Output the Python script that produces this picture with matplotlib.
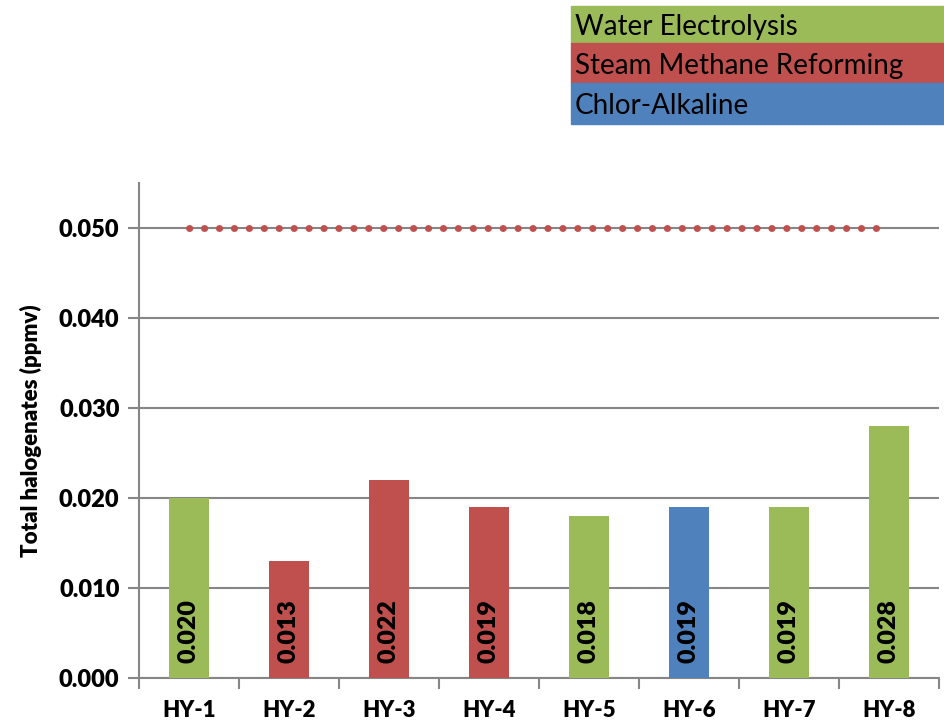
import matplotlib.pyplot as plt
import matplotlib.patches as mpatches

plt.rcParams['font.family'] = ['Lato', 'DejaVu Sans']

# datos
samples = ['HY-1', 'HY-2', 'HY-3', 'HY-4', 'HY-5', 'HY-6', 'HY-7', 'HY-8']
values = [0.020, 0.013, 0.022, 0.019, 0.018, 0.019, 0.019, 0.028]
process = ['Water Electrolysis', 'Steam Methane Reforming', 'Steam Methane Reforming',
           'Steam Methane Reforming', 'Water Electrolysis', 'Chlor-Alkaline',
           'Water Electrolysis', 'Water Electrolysis']
limit = [0.050] * len(samples)

legend_names = ['Water Electrolysis', 'Steam Methane Reforming', 'Chlor-Alkaline']
colors = {'Water Electrolysis': '#9BBB59',
          'Steam Methane Reforming': '#C0504D',
          'Chlor-Alkaline': '#4F81BD'}

fig = plt.figure(figsize=(9.45, 7.23), dpi=100)
ax = fig.add_axes([139 / 945, 1 - 678 / 723, 800 / 945, (678 - 183) / 723])

x = list(range(len(samples)))
ax.bar(x, values, width=0.4, color=[colors[p] for p in process], zorder=3)

# etiquetas de valor dentro de las barras
for xi, v in zip(x, values):
    ax.annotate(f'{v:.3f}', (xi, 0), xytext=(0, 11), textcoords='offset points',
                rotation=90, ha='center', va='bottom', fontsize=18,
                fontweight='heavy', zorder=4)

# línea límite punteada (puntos redondos)
ax.plot(x, limit, color='#C0504D', lw=5, linestyle=(0, (0.05, 2.1)),
        dash_capstyle='round', zorder=4)

ax.set_xlim(-0.5, len(samples) - 0.5)
ax.set_ylim(0, 0.055)
ax.set_yticks([0, 0.01, 0.02, 0.03, 0.04, 0.05])
ax.set_yticklabels(['0.000', '0.010', '0.020', '0.030', '0.040', '0.050'])
ax.set_xticks(x)
ax.set_xticklabels(samples)
ax.set_xticks([i - 0.5 for i in range(len(samples) + 1)], minor=True)
ax.tick_params(axis='x', which='major', length=0, pad=16, labelsize=16)
ax.tick_params(axis='x', which='minor', length=8, width=1.5, color='#868686')
ax.tick_params(axis='y', length=8, width=1.5, color='#868686', labelsize=17, pad=6)
for lab in ax.get_xticklabels() + ax.get_yticklabels():
    lab.set_fontweight('heavy')

ax.grid(axis='y', color='#868686', lw=1.5, zorder=0)
ax.spines['top'].set_visible(False)
ax.spines['right'].set_visible(False)
for s in ['left', 'bottom']:
    ax.spines[s].set_color('#868686')
    ax.spines[s].set_linewidth(1.5)

ax.set_ylabel('Total halogenates (ppmv)', fontsize=16, fontweight='heavy', labelpad=12)

# leyenda personalizada (cuadros de color arriba a la derecha)
tops = [6, 43, 83]
bottoms = [43, 83, 124]
for name, t, b in zip(legend_names, tops, bottoms):
    fig.patches.append(mpatches.Rectangle((571 / 945, 1 - b / 723), (945 - 571) / 945,
                                          (b - t) / 723, transform=fig.transFigure,
                                          color=colors[name], zorder=1))
    fig.text(575 / 945, 1 - ((t + b) / 2 + 3) / 723, name, fontsize=20,
             va='center', ha='left')

fig.savefig('out.png', dpi=100)
